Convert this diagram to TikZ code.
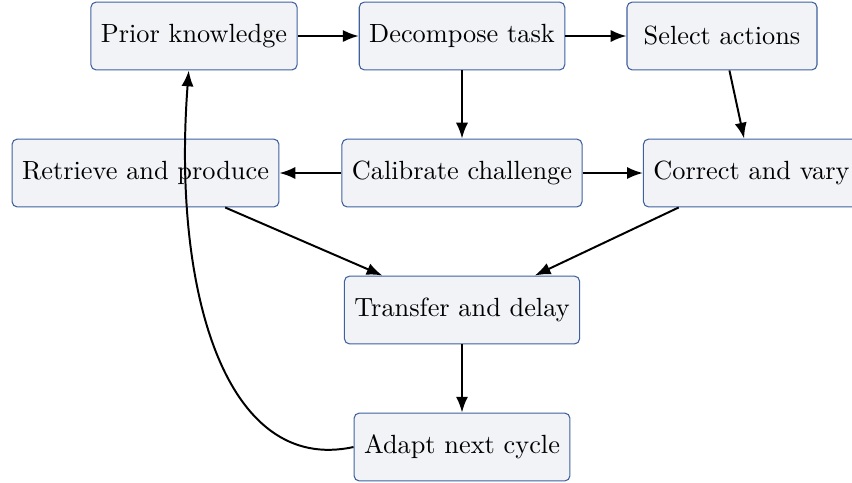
\documentclass[tikz,border=0pt]{standalone}
\usetikzlibrary{arrows.meta}
\definecolor{boxdraw}{RGB}{62,96,158}
\definecolor{boxfill}{RGB}{242,243,247}
\begin{document}
\begin{tikzpicture}[x=0.38pt,y=-0.38pt,
  stepbox/.style={draw=boxdraw,fill=boxfill,rounded corners=2pt,line width=0.4pt,
    minimum height=25.8pt,minimum width=72.2pt,inner xsep=3.8pt,inner ysep=0pt,font=\normalsize},
  conn/.style={-{Latex[length=6pt,width=4.6pt]},line width=0.75pt,black}]
\useasboundingbox (0,0) rectangle (852,482);
\node[stepbox] (prior) at (194,36) {Prior knowledge};
\node[stepbox] (decomp) at (462,36) {Decompose task};
\node[stepbox] (select) at (722,36) {Select actions};
\node[stepbox] (retrieve) at (145.5,173) {Retrieve and produce};
\node[stepbox] (calib) at (462,173) {Calibrate challenge};
\node[stepbox] (correct) at (751.5,173) {Correct and vary};
\node[stepbox] (transfer) at (462,310) {Transfer and delay};
\node[stepbox] (adapt) at (462,447) {Adapt next cycle};
\draw[conn] (prior) -- (decomp);
\draw[conn] (decomp) -- (select);
\draw[conn] (decomp) -- (calib);
\draw[conn] (select) -- (correct);
\draw[conn] (calib) -- (retrieve);
\draw[conn] (calib) -- (correct);
\draw[conn] (retrieve) -- (transfer);
\draw[conn] (correct) -- (transfer);
\draw[conn] (transfer) -- (adapt);
\draw[conn] (adapt.west) .. controls (225,475) and (172,290) .. ([xshift=-2]prior.south);
\end{tikzpicture}
\end{document}
